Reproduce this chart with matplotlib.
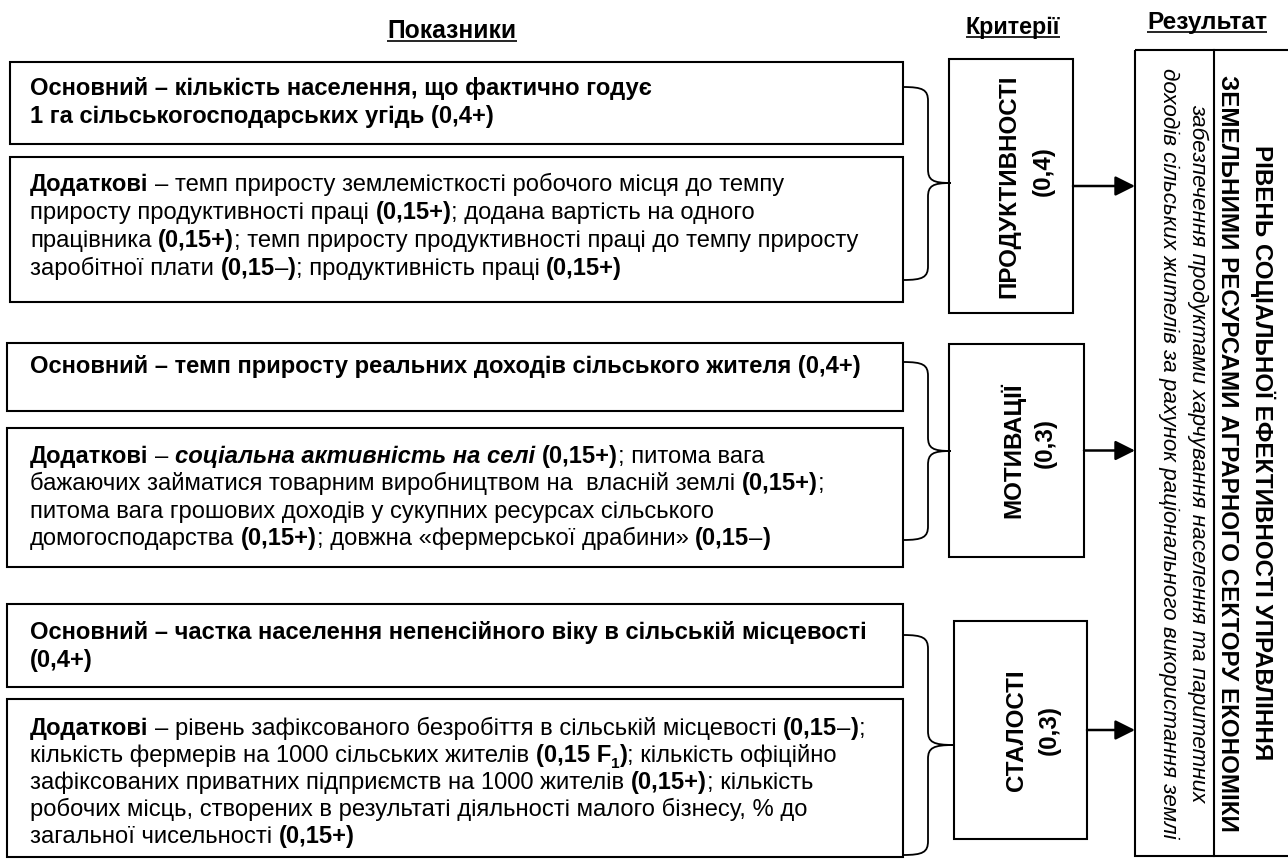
import matplotlib
matplotlib.use("Agg")
import matplotlib.pyplot as plt
from matplotlib.patches import Rectangle, PathPatch
from matplotlib.path import Path
from matplotlib.font_manager import FontProperties

# ---- content of the scheme ----
headers = ["Показники", "Критерії", "Результат"]

# each line is a list of runs: (text, style); r = regular, b = bold,
# bi = bold italic, sub = subscript
prod_main = [
    [("Основний – кількість населення, що фактично годує", "b")],
    [("1 га сільськогосподарських угідь (0,4+)", "b")],
]
prod_extra = [
    [("Додаткові", "b"), (" – темп приросту землемісткості робочого місця до темпу", "r")],
    [("приросту продуктивності праці ", "r"), ("(0,15+)", "b"), ("; додана вартість на одного", "r")],
    [("працівника ", "r"), ("(0,15+)", "b"), ("; темп приросту продуктивності праці до темпу приросту", "r")],
    [("заробітної плати ", "r"), ("(0,15", "b"), ("–", "r"), (")", "b"),
     ("; продуктивність праці ", "r"), ("(0,15+)", "b")],
]
motiv_main = [
    [("Основний – темп приросту реальних доходів сільського жителя (0,4+)", "b")],
]
motiv_extra = [
    [("Додаткові", "b"), (" – ", "r"), ("соціальна активність на селі", "bi"), (" ", "r"),
     ("(0,15+)", "b"), ("; питома вага", "r")],
    [("бажаючих займатися товарним виробництвом на  власній землі ", "r"), ("(0,15+)", "b"), (";", "r")],
    [("питома вага грошових доходів у сукупних ресурсах сільського", "r")],
    [("домогосподарства ", "r"), ("(0,15+)", "b"), ("; довжна «фермерської драбини» ", "r"),
     ("(0,15", "b"), ("–", "r"), (")", "b")],
]
stab_main = [
    [("Основний – частка населення непенсійного віку в сільській місцевості", "b")],
    [("(0,4+)", "b")],
]
stab_extra = [
    [("Додаткові", "b"), (" – рівень зафіксованого безробіття в сільській місцевості ", "r"),
     ("(0,15", "b"), ("–", "r"), (")", "b"), (";", "r")],
    [("кількість фермерів на 1000 сільських жителів ", "r"), ("(0,15 F", "b"), ("1", "sub"),
     (")", "b"), ("; кількість офіційно", "r")],
    [("зафіксованих приватних підприємств на 1000 жителів ", "r"), ("(0,15+)", "b"), ("; кількість", "r")],
    [("робочих місць, створених в результаті діяльності малого бізнесу, % до", "r")],
    [("загальної чисельності ", "r"), ("(0,15+)", "b")],
]

criteria = ["ПРОДУКТИВНОСТІ", "МОТИВАЦІЇ", "СТАЛОСТІ"]
criteria_weights = ["(0,4)", "(0,3)", "(0,3)"]

result_title = ["РІВЕНЬ СОЦІАЛЬНОЇ ЕФЕКТИВНОСТІ УПРАВЛІННЯ",
                "ЗЕМЕЛЬНИМИ РЕСУРСАМИ АГРАРНОГО СЕКТОРУ ЕКОНОМІКИ"]
result_note = ["забезпечення продуктами харчування населення та паритетних",
               "доходів сільських жителів за рахунок раціонального використання землі"]

# ---- canvas in pixel units ----
W, H = 1288, 859
fig = plt.figure(figsize=(W / 100, H / 100), dpi=100)
ax = fig.add_axes([0, 0, 1, 1])
ax.set_xlim(0, W)
ax.set_ylim(H, 0)
ax.axis("off")
rend = fig.canvas.get_renderer()
FAM = ["Liberation Sans", "DejaVu Sans"]


def fp(style, size):
    return FontProperties(family=FAM, size=size,
                          weight="bold" if "b" in style else "normal",
                          style="italic" if "i" in style else "normal")


def width(s, prop, rot=0):
    if not s:
        return 0.0
    t = ax.text(0, 0, s, fontproperties=prop, rotation=rot)
    bb = t.get_window_extent(rend)
    t.remove()
    return bb.height if rot else bb.width


def place_runs(x, y, runs, size, draw=True):
    for s, st in runs:
        sub = st == "sub"
        p = fp("b" if sub else st, size * (0.65 if sub else 1.0))
        sw = width("n n", p) - width("nn", p)
        core = s.strip(" ")
        if not core:
            x += len(s) * sw
            continue
        lead = len(s) - len(s.lstrip(" "))
        trail = len(s) - len(s.rstrip(" "))
        x += lead * sw
        if draw:
            ax.text(x, y + (size * 0.35 if sub else 0), core, fontproperties=p,
                    ha="left", va="baseline", color="black")
        x += width(core, p) + trail * sw
    return x


# body font size fitted to the widest regular line
body = 14 * 835 / place_runs(0, 0, prod_extra[2], 14, draw=False)
body_px = body * 100 / 72

blocks = [
    (prod_main, (10, 62, 903, 144), [87, 115]),
    (prod_extra, (10, 157, 903, 302), [183, 211, 239, 267]),
    (motiv_main, (7, 343, 903, 411), [365]),
    (motiv_extra, (7, 428, 903, 567), [455, 482, 510, 537]),
    (stab_main, (7, 604, 903, 687), [631, 659]),
    (stab_extra, (7, 699, 903, 857), [727, 754, 781, 808, 835]),
]
for lines, (x0, y0, x1, y1), centers in blocks:
    ax.add_patch(Rectangle((x0, y0), x1 - x0, y1 - y0, fill=False, lw=1.5, ec="black"))
    for runs, yc in zip(lines, centers):
        place_runs(30, yc + 0.33 * body_px, runs, body)

# headers, underlined
head_pos = [(452, 38, 128), (1013, 34, 94), (1207, 29, 120)]
for txt, (xc, yb, wt) in zip(headers, head_pos):
    size = 12 * wt / width(txt, fp("b", 12))
    t = ax.text(xc, yb, txt, fontproperties=fp("b", size), ha="center", va="baseline")
    bb = t.get_window_extent(rend)
    ax.plot([bb.x0, bb.x1], [yb + 3, yb + 3], color="black", lw=1.2, solid_capstyle="butt")

# braces
def brace(x0, ytop, ymid, ybot, xm, xt, r=14):
    verts = [(x0, ytop), (x0 + (xm - x0) * 0.8, ytop), (xm, ytop + r * 0.2), (xm, ytop + r),
             (xm, ymid - r),
             (xm, ymid - r * 0.2), (xm + (xt - xm) * 0.2, ymid), (xt, ymid),
             (xm + (xt - xm) * 0.2, ymid), (xm, ymid + r * 0.2), (xm, ymid + r),
             (xm, ybot - r),
             (xm, ybot - r * 0.2), (x0 + (xm - x0) * 0.8, ybot), (x0, ybot)]
    codes = [Path.MOVETO, Path.CURVE4, Path.CURVE4, Path.CURVE4, Path.LINETO,
             Path.CURVE4, Path.CURVE4, Path.CURVE4, Path.CURVE4, Path.CURVE4, Path.CURVE4,
             Path.LINETO, Path.CURVE4, Path.CURVE4, Path.CURVE4]
    ax.add_patch(PathPatch(Path(verts, codes), fill=False, lw=1.3, ec="black"))


brace(903, 87, 183, 280, 928, 951)
brace(903, 362, 451, 540, 928, 951)
brace(903, 635, 745, 855, 928, 954)

# criteria boxes
crit_boxes = [(949, 59, 1073, 313), (949, 344, 1084, 557), (954, 621, 1087, 839)]
crit_lines = [(1009, 1043, -15), (1013, 1045, -8), (1017, 1049, 0)]
crit_size = 12 * 222 / width(criteria[0], fp("b", 12), rot=90)
for name, wgt, (x0, y0, x1, y1), (xa, xb, dy) in zip(criteria, criteria_weights, crit_boxes, crit_lines):
    ax.add_patch(Rectangle((x0, y0), x1 - x0, y1 - y0, fill=False, lw=1.5, ec="black"))
    yc = (y0 + y1) / 2
    ax.text(xa, yc, name, fontproperties=fp("b", crit_size), rotation=90, ha="center", va="center")
    ax.text(xb, yc + dy, wgt, fontproperties=fp("b", crit_size), rotation=90, ha="center", va="center")
    ax.annotate("", xy=(1135, yc), xytext=(x1, yc),
                arrowprops=dict(arrowstyle="-|>,head_length=0.6,head_width=0.3", lw=1.8,
                                color="black", mutation_scale=20, shrinkA=0, shrinkB=0))

# result box
ax.add_patch(Rectangle((1135, 50), 160, 806, fill=False, lw=1.5, ec="black", clip_on=False))
ax.plot([1214, 1214], [50, 856], color="black", lw=1.5)
title_size = 12 * 755 / width(result_title[1], fp("b", 12), rot=-90)
note_size = 12 * 770 / width(result_note[1], fp("i", 12), rot=-90)
ax.text(1263, 453, result_title[0], fontproperties=fp("b", title_size), rotation=-90, ha="center", va="center")
ax.text(1228, 453, result_title[1], fontproperties=fp("b", title_size), rotation=-90, ha="center", va="center")
ax.text(1198, 453, result_note[0], fontproperties=fp("i", note_size), rotation=-90, ha="center", va="center")
ax.text(1169, 453, result_note[1], fontproperties=fp("i", note_size), rotation=-90, ha="center", va="center")

fig.savefig("out.png", dpi=100, facecolor="white")
